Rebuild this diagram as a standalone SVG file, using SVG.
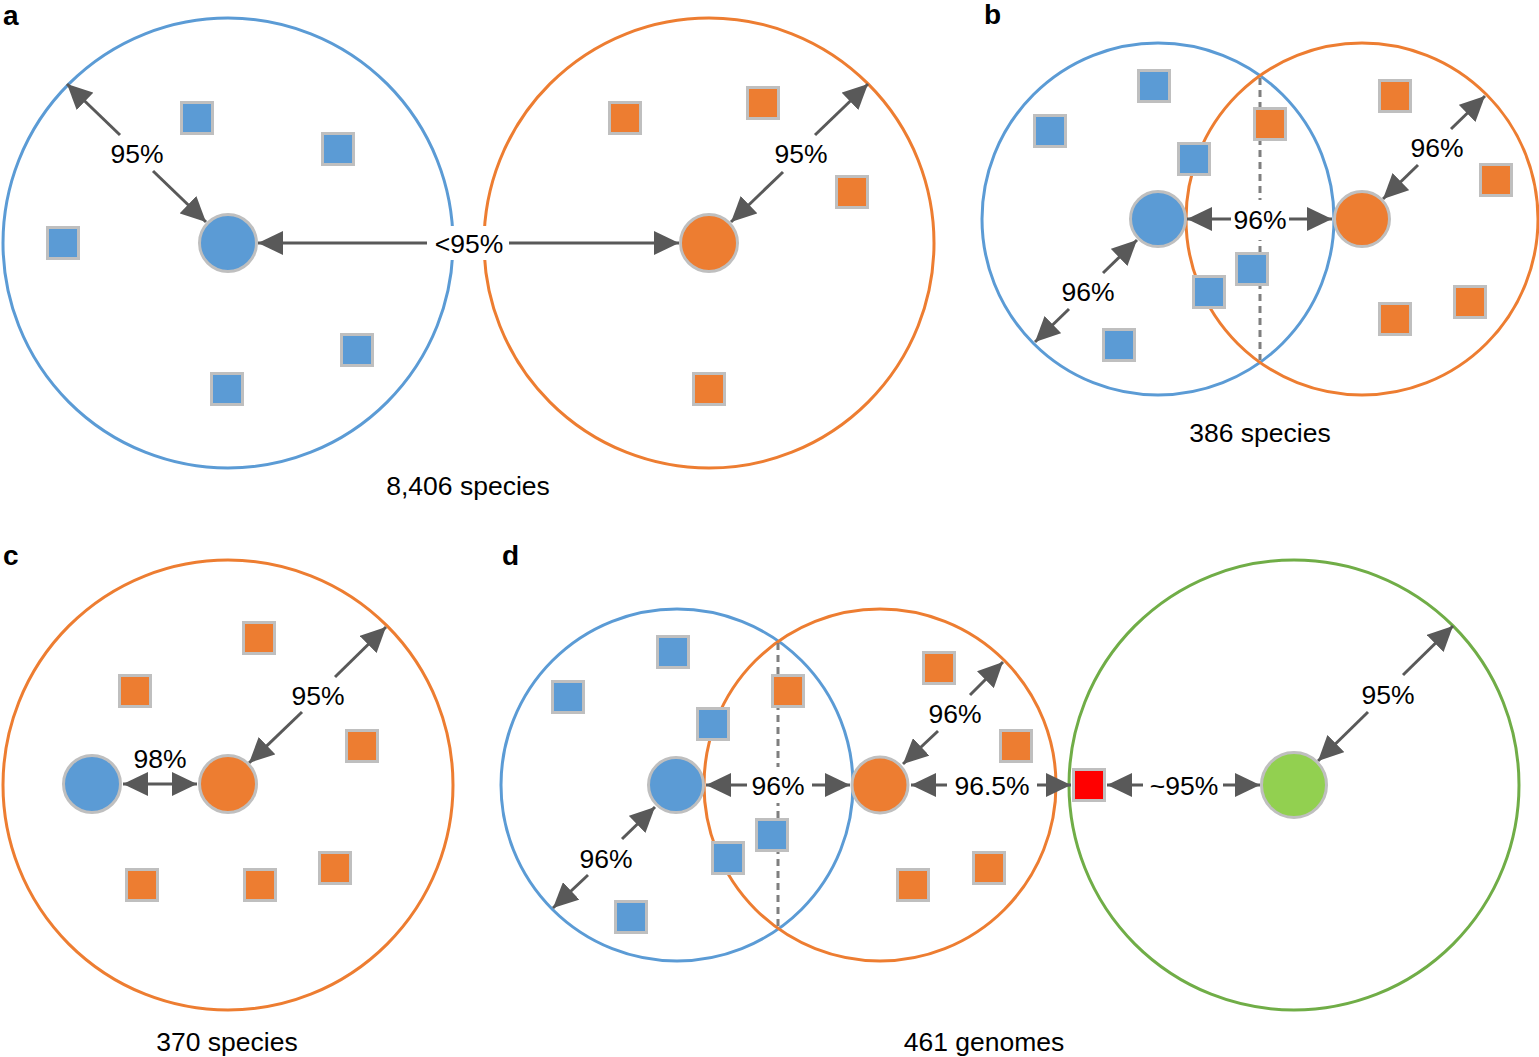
<svg xmlns="http://www.w3.org/2000/svg" width="1539" height="1057" viewBox="0 0 1539 1057">
<style>
.bg{fill:#fff}
.big{fill:none;stroke-width:3}
.cb{stroke:#5B9BD5}.co{stroke:#ED7D31}.cg{stroke:#70AD47}
.sq{stroke:#BFBFBF;stroke-width:3}
.nd{stroke:#BFBFBF;stroke-width:3}
.fb{fill:#5B9BD5}.fo{fill:#ED7D31}.fg{fill:#92D050}.fr{fill:#FF0000}
.dash{stroke:#7F7F7F;stroke-width:3;stroke-dasharray:7 5;fill:none}
.ar{stroke:#595959;stroke-width:3;fill:none;marker-end:url(#ah)}
.ar2{stroke:#595959;stroke-width:3;fill:none;marker-end:url(#ah);marker-start:url(#ah)}
.lb{font-family:"Liberation Sans",Arial,sans-serif;font-size:26.5px;fill:#000;text-anchor:middle}
.pl{font-family:"Liberation Sans",Arial,sans-serif;font-size:28px;font-weight:bold;fill:#000}
.wb{fill:#fff;stroke:none}
</style>
<defs>
<marker id="ah" viewBox="0 0 25 24" refX="25" refY="12" markerWidth="25" markerHeight="24" markerUnits="userSpaceOnUse" orient="auto-start-reverse">
<path d="M0,0 L25,12 L0,24 z" fill="#595959"/>
</marker>
</defs>
<rect class="bg" x="0" y="0" width="1539" height="1057"/>

<!-- big boundary circles -->
<g id="boundaries">
<circle id="a-blue-range" class="big cb" cx="228" cy="243" r="225"/>
<circle id="a-orange-range" class="big co" cx="709" cy="243" r="225"/>
<circle id="b-blue-range" class="big cb" cx="1158" cy="219" r="176"/>
<circle id="b-orange-range" class="big co" cx="1362" cy="219" r="176"/>
<circle id="c-orange-range" class="big co" cx="228" cy="785" r="225"/>
<circle id="d-blue-range" class="big cb" cx="677" cy="785" r="176"/>
<circle id="d-orange-range" class="big co" cx="880" cy="785" r="176"/>
<circle id="d-green-range" class="big cg" cx="1294" cy="785" r="225"/>
</g>

<g id="dividers">
<line class="dash" x1="1260" y1="78" x2="1260" y2="360"/>
<line class="dash" x1="778" y1="643" x2="778" y2="926"/>
</g>

<!-- label backgrounds -->
<g id="label-backgrounds">
<rect class="wb" x="427" y="226" width="82" height="34"/>
<rect class="wb" x="1232" y="200" width="56" height="40"/>
<rect class="wb" x="749" y="767" width="61" height="36"/>
</g>

<!-- connectors -->
<g id="connectors">
<line class="ar" x1="120" y1="135" x2="67" y2="84"/>
<line class="ar" x1="153" y1="171" x2="206" y2="222"/>
<line class="ar" x1="427" y1="243" x2="258" y2="243"/>
<line class="ar" x1="509" y1="243" x2="679" y2="243"/>
<line class="ar" x1="815" y1="135" x2="868" y2="84"/>
<line class="ar" x1="783" y1="172" x2="731" y2="222"/>

<line class="ar" x1="1231" y1="219" x2="1187" y2="219"/>
<line class="ar" x1="1289" y1="219" x2="1332" y2="219"/>
<line class="ar" x1="1451" y1="129" x2="1485" y2="96"/>
<line class="ar" x1="1418" y1="165" x2="1383" y2="199"/>
<line class="ar" x1="1103" y1="273" x2="1137" y2="240"/>
<line class="ar" x1="1069" y1="309" x2="1035" y2="342"/>

<line class="ar2" x1="123" y1="784" x2="197" y2="784"/>
<line class="ar" x1="335" y1="677" x2="386" y2="627"/>
<line class="ar" x1="302" y1="712" x2="249" y2="763"/>

<line class="ar" x1="747" y1="785" x2="706" y2="785"/>
<line class="ar" x1="812" y1="785" x2="850" y2="785"/>
<line class="ar" x1="622" y1="839" x2="655" y2="807"/>
<line class="ar" x1="588" y1="875" x2="553" y2="908"/>
<line class="ar" x1="970" y1="695" x2="1003" y2="662"/>
<line class="ar" x1="938" y1="731" x2="903" y2="764"/>
<line class="ar" x1="947" y1="785" x2="911" y2="785"/>
<line class="ar" x1="1037" y1="785" x2="1071" y2="785"/>
<line class="ar" x1="1143" y1="785" x2="1107" y2="785"/>
<line class="ar" x1="1223" y1="785" x2="1260" y2="785"/>
<line class="ar" x1="1403" y1="675" x2="1453" y2="626"/>
<line class="ar" x1="1368" y1="712" x2="1318" y2="761"/>
</g>

<!-- panel a nodes -->
<g id="a-genomes">
<rect class="sq fb" x="181.5" y="102.5" width="31" height="31"/>
<rect class="sq fb" x="322.5" y="133.5" width="31" height="31"/>
<rect class="sq fb" x="47.5" y="227.5" width="31" height="31"/>
<rect class="sq fb" x="341.5" y="334.5" width="31" height="31"/>
<rect class="sq fb" x="211.5" y="373.5" width="31" height="31"/>
<rect class="sq fo" x="609.5" y="102.5" width="31" height="31"/>
<rect class="sq fo" x="747.5" y="87.5" width="31" height="31"/>
<rect class="sq fo" x="836.5" y="176.5" width="31" height="31"/>
<rect class="sq fo" x="693.5" y="373.5" width="31" height="31"/>
</g>
<g id="a-blue-rep"><circle class="nd fb" cx="228" cy="243" r="28.5"/></g>
<g id="a-orange-rep"><circle class="nd fo" cx="709" cy="243" r="28.5"/></g>

<!-- panel b nodes -->
<g id="b-genomes">
<rect class="sq fb" x="1138.5" y="70.5" width="31" height="31"/>
<rect class="sq fb" x="1034.5" y="115.5" width="31" height="31"/>
<rect class="sq fb" x="1178.5" y="143.5" width="31" height="31"/>
<rect class="sq fb" x="1236.5" y="253.5" width="31" height="31"/>
<rect class="sq fb" x="1193.5" y="276.5" width="31" height="31"/>
<rect class="sq fb" x="1103.5" y="329.5" width="31" height="31"/>
<rect class="sq fo" x="1254.5" y="108.5" width="31" height="31"/>
<rect class="sq fo" x="1379.5" y="80.5" width="31" height="31"/>
<rect class="sq fo" x="1480.5" y="164.5" width="31" height="31"/>
<rect class="sq fo" x="1454.5" y="286.5" width="31" height="31"/>
<rect class="sq fo" x="1379.5" y="303.5" width="31" height="31"/>
</g>
<g id="b-blue-rep"><circle class="nd fb" cx="1158" cy="219" r="27.5"/></g>
<g id="b-orange-rep"><circle class="nd fo" cx="1362" cy="219" r="27.5"/></g>

<!-- panel c nodes -->
<g id="c-genomes">
<rect class="sq fo" x="243.5" y="622.5" width="31" height="31"/>
<rect class="sq fo" x="119.5" y="675.5" width="31" height="31"/>
<rect class="sq fo" x="346.5" y="730.5" width="31" height="31"/>
<rect class="sq fo" x="319.5" y="852.5" width="31" height="31"/>
<rect class="sq fo" x="126.5" y="869.5" width="31" height="31"/>
<rect class="sq fo" x="244.5" y="869.5" width="31" height="31"/>
</g>
<g id="c-blue-rep"><circle class="nd fb" cx="92" cy="784" r="28.5"/></g>
<g id="c-orange-rep"><circle class="nd fo" cx="228" cy="784" r="28.5"/></g>

<!-- panel d nodes -->
<g id="d-genomes">
<rect class="sq fb" x="657.5" y="636.5" width="31" height="31"/>
<rect class="sq fb" x="552.5" y="681.5" width="31" height="31"/>
<rect class="sq fb" x="697.5" y="708.5" width="31" height="31"/>
<rect class="sq fb" x="756.5" y="819.5" width="31" height="31"/>
<rect class="sq fb" x="712.5" y="842.5" width="31" height="31"/>
<rect class="sq fb" x="615.5" y="901.5" width="31" height="31"/>
<rect class="sq fo" x="772.5" y="675.5" width="31" height="31"/>
<rect class="sq fo" x="923.5" y="652.5" width="31" height="31"/>
<rect class="sq fo" x="1000.5" y="730.5" width="31" height="31"/>
<rect class="sq fo" x="973.5" y="852.5" width="31" height="31"/>
<rect class="sq fo" x="897.5" y="869.5" width="31" height="31"/>
</g>
<g id="d-red-genome"><rect class="sq fr" x="1073.5" y="769.5" width="31" height="31"/></g>
<g id="d-blue-rep"><circle class="nd fb" cx="676" cy="785" r="27.5"/></g>
<g id="d-orange-rep"><circle class="nd fo" cx="880" cy="785" r="28"/></g>
<g id="d-green-rep"><circle class="nd fg" cx="1294" cy="785" r="32.5"/></g>

<!-- labels -->
<g id="labels">
<text class="pl" x="3" y="25">a</text>
<text class="pl" x="984" y="24">b</text>
<text class="pl" x="3" y="565">c</text>
<text class="pl" x="502" y="565">d</text>

<text class="lb" x="137" y="162.5">95%</text>
<text class="lb" x="469" y="252.5">&lt;95%</text>
<text class="lb" x="801" y="162.5">95%</text>
<text class="lb" x="468" y="494.5">8,406 species</text>

<text class="lb" x="1260" y="228.5">96%</text>
<text class="lb" x="1437" y="156.5">96%</text>
<text class="lb" x="1088" y="300.5">96%</text>
<text class="lb" x="1260" y="441.5">386 species</text>

<text class="lb" x="160" y="767.5">98%</text>
<text class="lb" x="318" y="704.5">95%</text>
<text class="lb" x="227" y="1050.5">370 species</text>

<text class="lb" x="778" y="794.5">96%</text>
<text class="lb" x="606" y="867.5">96%</text>
<text class="lb" x="955" y="722.5">96%</text>
<text class="lb" x="992" y="794.5">96.5%</text>
<text class="lb" x="1184" y="794.5">~95%</text>
<text class="lb" x="1388" y="703.5">95%</text>
<text class="lb" x="984" y="1050.5">461 genomes</text>
</g>
</svg>
